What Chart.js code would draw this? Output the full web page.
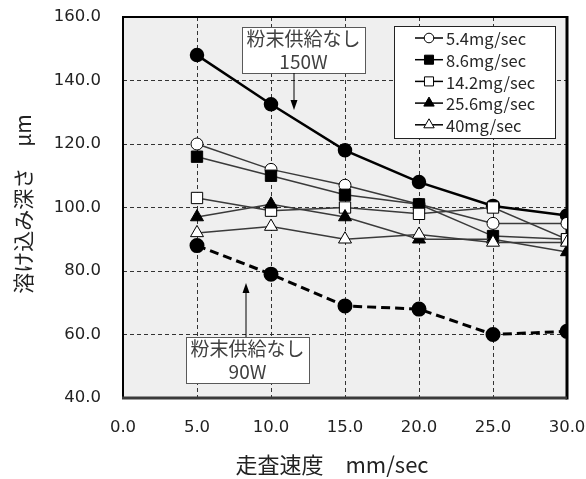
<!DOCTYPE html>
<html><head><meta charset="utf-8">
<script src="https://cdn.jsdelivr.net/npm/chart.js@4"></script>
<style>html,body{margin:0;padding:0;background:#fff;}#wrap{width:586px;height:479px;}</style>
</head><body><div id="wrap"><canvas id="c" width="586" height="479"></canvas></div>
<script>
const speeds = [5, 10, 15, 20, 25, 30];
const s54  = [120, 112, 107, 101, 95, 95];
const s86  = [116, 110, 104, 101, 91, 90];
const s142 = [103, 99, 100, 98, 100, 90];
const s256 = [97, 101, 97, 90, 90, 86];
const s40  = [92, 94, 90, 91.5, 89, 89];
const w150 = [148, 132.5, 118, 108, 100.5, 97.5];
const w90  = [88, 79, 69, 68, 60, 61];
const seriesLabels = ['5.4mg/sec', '8.6mg/sec', '14.2mg/sec', '25.6mg/sec', '40mg/sec'];
const xTicks = [0, 5, 10, 15, 20, 25, 30];
const yTicks = [40, 60, 80, 100, 120, 140, 160];
const xTitle = '走査速度\u3000mm/sec';
const yTitle = '溶け込み深さ\u3000μm';
const note150 = ['粉末供給なし', '150W'];
const note90 = ['粉末供給なし', '90W'];

const pts = arr => speeds.map((x, i) => ({x: x, y: arr[i]}));
const JP = '"Noto Sans CJK JP", "Noto Sans", sans-serif';

function series(label, arr, style, radius, fill, order) {
  return {label, data: pts(arr), showLine: true, borderColor: '#3a3a3a', borderWidth: 1.5,
    pointStyle: style, pointRadius: radius, pointHoverRadius: radius,
    pointBackgroundColor: fill, pointBorderColor: '#000', pointBorderWidth: 1, tension: 0, order};
}
const datasets = [
  series(seriesLabels[0], s54, 'circle', 6, '#fff', 6),
  series(seriesLabels[1], s86, 'rect', 8, '#000', 5),
  series(seriesLabels[2], s142, 'rect', 8, '#fff', 4),
  series(seriesLabels[3], s256, 'triangle', 7.5, '#000', 3),
  series(seriesLabels[4], s40, 'triangle', 7.5, '#fff', 2),
  {label: '150W', data: pts(w150), showLine: true, borderColor: '#000', borderWidth: 2.5,
   pointStyle: 'circle', pointRadius: 6, pointBackgroundColor: '#000', pointBorderColor: '#000', order: 10},
  {label: '90W', data: pts(w90), showLine: true, borderColor: '#000', borderWidth: 3, borderDash: [9, 5],
   pointStyle: 'circle', pointRadius: 6, pointBackgroundColor: '#000', pointBorderColor: '#000', order: 10}
];

function arrow(ctx, x, y1, y2) {
  ctx.save();
  ctx.strokeStyle = '#000'; ctx.fillStyle = '#000'; ctx.lineWidth = 1;
  const dir = Math.sign(y2 - y1);
  ctx.beginPath(); ctx.moveTo(x, y1); ctx.lineTo(x, y2 - dir * 8); ctx.stroke();
  ctx.beginPath(); ctx.moveTo(x, y2); ctx.lineTo(x - 3.5, y2 - dir * 10); ctx.lineTo(x + 3.5, y2 - dir * 10); ctx.closePath(); ctx.fill();
  ctx.restore();
}
function noteBox(ctx, x, y, w, h, lines) {
  ctx.save();
  ctx.fillStyle = '#fff'; ctx.fillRect(x, y, w, h);
  ctx.strokeStyle = '#595959'; ctx.lineWidth = 1; ctx.strokeRect(x + 0.5, y + 0.5, w, h);
  ctx.fillStyle = '#404040'; ctx.font = '19px ' + JP; ctx.textAlign = 'center'; ctx.textBaseline = 'middle';
  ctx.fillText(lines[0], x + w / 2, y + 12);
  ctx.fillText(lines[1], x + w / 2, y + 35);
  ctx.restore();
}

const deco = {
  id: 'deco',
  beforeDraw(chart) {
    const {ctx, chartArea: a} = chart;
    ctx.save(); ctx.fillStyle = '#efefef'; ctx.fillRect(a.left, a.top, a.right - a.left, a.bottom - a.top); ctx.restore();
  },
  beforeDatasetsDraw(chart) {
    const {ctx, chartArea: a} = chart;
    ctx.save();
    ctx.strokeStyle = '#000'; ctx.lineWidth = 2;
    ctx.beginPath(); ctx.moveTo(a.left, a.bottom); ctx.lineTo(a.left, a.top); ctx.lineTo(a.right, a.top); ctx.stroke();
    ctx.lineWidth = 3;
    ctx.beginPath(); ctx.moveTo(a.right, a.top - 1); ctx.lineTo(a.right, a.bottom + 1.5); ctx.stroke();
    ctx.strokeStyle = '#3a3a3a';
    ctx.beginPath(); ctx.moveTo(a.left - 1, a.bottom); ctx.lineTo(a.right, a.bottom); ctx.stroke();
    ctx.restore();
  },
  afterDraw(chart) {
    const {ctx} = chart;
    ctx.save();
    ctx.fillStyle = '#fff'; ctx.fillRect(394, 26, 161, 112);
    ctx.strokeStyle = '#222'; ctx.lineWidth = 1; ctx.strokeRect(394.5, 26.5, 161, 112);
    for (let i = 0; i < 5; i++) {
      const ds = chart.data.datasets[i];
      const y = 38 + i * 21.7;
      ctx.strokeStyle = '#000'; ctx.lineWidth = 1.5;
      ctx.beginPath(); ctx.moveTo(415, y); ctx.lineTo(443, y); ctx.stroke();
      ctx.fillStyle = ds.pointBackgroundColor; ctx.strokeStyle = '#000'; ctx.lineWidth = 1;
      Chart.helpers.drawPoint(ctx, {pointStyle: ds.pointStyle, radius: ds.pointRadius * 0.8, borderWidth: 1, rotation: 0}, 429, y);
      ctx.fillStyle = '#262626'; ctx.font = '16.5px ' + JP; ctx.textAlign = 'left'; ctx.textBaseline = 'middle';
      ctx.fillText(ds.label, 446, y + 1);
    }
    ctx.restore();
    noteBox(ctx, 242, 27, 123, 46, note150);
    arrow(ctx, 294, 73, 110);
    noteBox(ctx, 186, 337, 123, 46, note90);
    arrow(ctx, 246, 337, 283);
    ctx.save();
    ctx.fillStyle = '#222'; ctx.font = '22px ' + JP; ctx.textAlign = 'center'; ctx.textBaseline = 'middle';
    ctx.fillText(xTitle, 332, 465);
    ctx.translate(23, 204); ctx.rotate(-Math.PI / 2);
    ctx.font = '21px ' + JP;
    ctx.fillText(yTitle, 0, 0);
    ctx.restore();
  }
};

new Chart(document.getElementById('c'), {
  type: 'scatter',
  data: {datasets},
  options: {
    responsive: false, animation: false,
    layout: {padding: {left: 0, top: 17, right: 19, bottom: 0}},
    plugins: {legend: {display: false}, tooltip: {enabled: false}},
    scales: {
      x: {type: 'linear', min: xTicks[0], max: xTicks[xTicks.length - 1],
        afterBuildTicks: s => { s.ticks = xTicks.map(v => ({value: v})); },
        afterFit: s => { s.height = 81; s.paddingLeft = 0; s.paddingRight = 0; },
        ticks: {callback: v => Number(v).toFixed(1), color: '#222', font: {family: 'DejaVu Sans', size: 16.5}, padding: 20, maxRotation: 0},
        grid: {color: '#333', lineWidth: 1, drawTicks: false},
        border: {display: false, dash: [4, 3]}},
      y: {type: 'linear', min: yTicks[0], max: yTicks[yTicks.length - 1],
        afterBuildTicks: s => { s.ticks = yTicks.map(v => ({value: v})); },
        afterFit: s => { s.width = 123; s.paddingTop = 0; s.paddingBottom = 0; },
        ticks: {callback: v => Number(v).toFixed(1), color: '#222', font: {family: 'DejaVu Sans', size: 16.5}, padding: 22},
        grid: {color: '#333', lineWidth: 1, drawTicks: false},
        border: {display: false, dash: [4, 3]}}
    }
  },
  plugins: [deco]
});
</script></body></html>
